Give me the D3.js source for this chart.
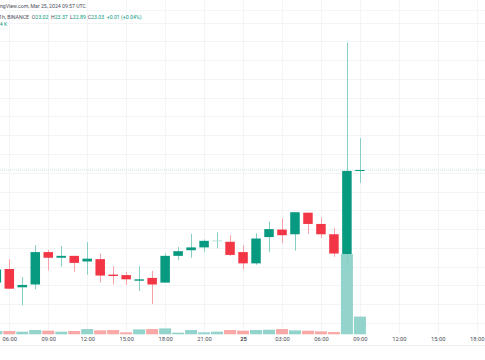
<!DOCTYPE html>
<html><head><meta charset="utf-8">
<script src="https://cdn.jsdelivr.net/npm/d3@7"></script>
<style>html,body{margin:0;padding:0;background:#fff;overflow:hidden}svg{display:block}</style>
</head><body>
<svg id="c" width="485" height="360"></svg>
<script>
// ---- data (1h candles, BINANCE) ----
const times = ["2024-03-24T05:00Z","2024-03-24T06:00Z","2024-03-24T07:00Z","2024-03-24T08:00Z","2024-03-24T09:00Z","2024-03-24T10:00Z","2024-03-24T11:00Z","2024-03-24T12:00Z","2024-03-24T13:00Z","2024-03-24T14:00Z","2024-03-24T15:00Z","2024-03-24T16:00Z","2024-03-24T17:00Z","2024-03-24T18:00Z","2024-03-24T19:00Z","2024-03-24T20:00Z","2024-03-24T21:00Z","2024-03-24T22:00Z","2024-03-24T23:00Z","2024-03-25T00:00Z","2024-03-25T01:00Z","2024-03-25T02:00Z","2024-03-25T03:00Z","2024-03-25T04:00Z","2024-03-25T05:00Z","2024-03-25T06:00Z","2024-03-25T07:00Z","2024-03-25T08:00Z","2024-03-25T09:00Z"];
const opens  = [21.83,21.975,21.78,21.81,22.155,22.095,22.115,22.055,22.08,21.915,21.91,21.85,21.88,21.83,22.115,22.175,22.205,22.28,22.265,22.155,22.035,22.315,22.395,22.345,22.575,22.455,22.345,22.135,23.02];
const highs  = [21.99,22.08,21.89,22.23,22.18,22.22,22.115,22.26,22.14,22.005,21.945,22.005,21.955,22.14,22.21,22.35,22.29,22.365,22.335,22.23,22.355,22.48,22.515,22.58,22.575,22.525,22.41,24.385,23.37];
const lows   = [21.80,21.76,21.59,21.76,21.96,22.00,21.945,21.915,21.83,21.81,21.805,21.74,21.60,21.83,22.07,22.095,22.155,22.195,22.115,21.97,22.02,22.155,22.25,22.17,22.35,22.305,22.105,22.01,22.89];
const closes = [21.97,21.765,21.805,22.155,22.095,22.115,22.04,22.085,21.905,21.90,21.865,21.865,21.81,22.115,22.165,22.205,22.275,22.28,22.125,22.035,22.30,22.40,22.335,22.58,22.455,22.345,22.14,23.02,23.03];
const volumes= [1.0,1.0,0.8,1.3,1.1,0.8,1.0,1.6,1.2,1.3,0.6,1.5,1.6,1.8,0.5,1.3,0.6,0.8,1.3,1.1,1.3,1.4,1.6,1.2,1.1,0.9,0.7,24.5,5.4];
const priceTicks = [21.4,21.6,21.8,22.0,22.2,22.4,22.6,22.8,23.0,23.2,23.4,23.6,23.8,24.0,24.2,24.4,24.6];
const headerTitle = "TradingView.com, Mar 25, 2024 09:57 UTC";
const headerSymbol = "1h, BINANCE";
const ohlcLabels = ["O","H","L","C"];
const changeText = "+0.01 (+0.04%)";

// ---- chart ----
const svg = d3.select("#c");
const W = 485;
const parse = d3.isoParse;
const tDates = times.map(parse);
const base = parse("2024-03-24T06:00Z");
const pxPerHour = 12.983;
const x = d3.scaleUtc()
  .domain([d3.utcMinute.offset(base, -9.3/pxPerHour*60), d3.utcMinute.offset(base, (W-9.3)/pxPerHour*60)])
  .range([0, W]);
const y = d3.scaleLinear().domain([23 - 161.2/93.85, 23 + 172.8/93.85]).range([334, 0]);
const yv = d3.scaleLinear().domain([0, 24.5]).range([334.3, 254]);

const GREEN = "#089981", RED = "#f23645";
const GREEN_W = "#86cfc2", RED_W = "#f6a0a7";
const GREEN_V = "#92d3cb", RED_V = "#f8a8a6";

const timeTicks = d3.utcHour.every(3).range(x.domain()[0], x.domain()[1]);

// grid
const grid = svg.append("g");
grid.selectAll("line.h").data(priceTicks).join("line")
  .attr("x1", 0).attr("x2", W)
  .attr("y1", d => Math.round(y(d)) + 0.5).attr("y2", d => Math.round(y(d)) + 0.5)
  .attr("stroke", "#f3f4f6").attr("stroke-width", 1);
grid.selectAll("line.v").data(timeTicks).join("line")
  .attr("x1", d => Math.round(x(d)) + 0.5).attr("x2", d => Math.round(x(d)) + 0.5)
  .attr("y1", 0).attr("y2", 334)
  .attr("stroke", "#f3f4f6").attr("stroke-width", 1);
svg.append("line").attr("x1",0).attr("x2",W).attr("y1",10.5).attr("y2",10.5).attr("stroke","#f4f5f7");

// last price line
svg.append("line")
  .attr("x1", 0).attr("x2", W)
  .attr("y1", y(closes[closes.length-1])).attr("y2", y(closes[closes.length-1]))
  .attr("stroke", "#c3e5de").attr("stroke-width", 1).attr("stroke-dasharray", "1,1");

const idx = d3.range(times.length);
const isUp = i => closes[i] >= opens[i];
const isDoji = i => closes[i] === opens[i];

// volume bars
svg.append("g").selectAll("rect").data(idx).join("rect")
  .attr("x", i => x(tDates[i]) - 6)
  .attr("width", 12)
  .attr("y", i => yv(volumes[i]))
  .attr("height", i => yv(0) - yv(volumes[i]))
  .attr("fill", i => isUp(i) ? GREEN_V : RED_V);

// wicks
svg.append("g").selectAll("line").data(idx).join("line")
  .attr("x1", i => Math.round(x(tDates[i])) + 0.5)
  .attr("x2", i => Math.round(x(tDates[i])) + 0.5)
  .attr("y1", i => y(highs[i])).attr("y2", i => y(lows[i]))
  .attr("stroke", i => isUp(i) ? GREEN_W : RED_W).attr("stroke-width", 1);

// bodies
svg.append("g").selectAll("rect").data(idx).join("rect")
  .attr("x", i => x(tDates[i]) - 4.75)
  .attr("width", 9.5)
  .attr("y", i => y(Math.max(opens[i], closes[i])))
  .attr("height", i => Math.max(1, Math.abs(y(opens[i]) - y(closes[i]))))
  .attr("fill", i => isDoji(i) ? "#b7e2da" : (isUp(i) ? GREEN : RED));

// time axis
svg.append("line").attr("x1",0).attr("x2",W).attr("y1",345.5).attr("y2",345.5).attr("stroke","#eceef2");
const axis = d3.axisBottom(x).tickValues(timeTicks).tickSize(0).tickPadding(0)
  .tickFormat(d => d.getUTCHours() === 0 ? d3.utcFormat("%-d")(d) : d3.utcFormat("%H:%M")(d));
const gAx = svg.append("g").attr("transform", "translate(0,337)").call(axis);
gAx.select(".domain").remove();
gAx.selectAll("text")
  .attr("font-family", "Roboto, 'Noto Sans', sans-serif")
  .attr("font-size", 5.8).attr("fill", "#4a4d57")
  .attr("font-weight", d => d.getUTCHours() === 0 ? "bold" : "normal");

// header
const F = "Roboto, 'Noto Sans', sans-serif";
const FS = 5.2;
svg.append("text").attr("x", 86).attr("y", 7.6).attr("text-anchor", "end")
  .attr("font-family", F).attr("font-size", FS).attr("fill", "#4a4d57").text(headerTitle);
svg.append("text").attr("x", 29).attr("y", 18.6).attr("text-anchor", "end")
  .attr("font-family", F).attr("font-size", FS).attr("fill", "#4a4d57").text(headerSymbol);
const last = times.length - 1;
const ohlcVals = [opens[last], highs[last], lows[last], closes[last]];
const ohlcX = [31.7, 51, 70, 87.7];
ohlcLabels.forEach((l, k) => {
  const t = svg.append("text").attr("x", ohlcX[k]).attr("y", 18.6)
    .attr("font-family", F).attr("font-size", FS);
  t.append("tspan").attr("fill", "#4a4d57").text(l);
  t.append("tspan").attr("fill", GREEN).text(ohlcVals[k].toFixed(2));
});
svg.append("text").attr("x", 106.7).attr("y", 18.6)
  .attr("font-family", F).attr("font-size", FS).attr("fill", GREEN).text(changeText);
svg.append("text").attr("x", 7.3).attr("y", 26.3).attr("text-anchor", "end")
  .attr("font-family", F).attr("font-size", FS).attr("fill", GREEN)
  .text(volumes[last].toFixed(1) + " K");
</script>
</body></html>
